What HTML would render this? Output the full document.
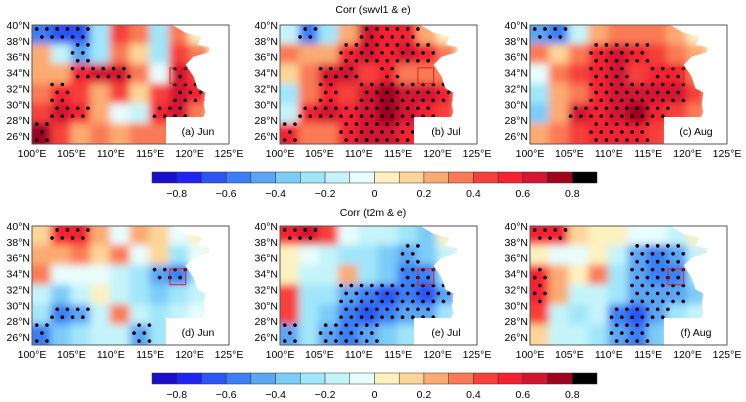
<!DOCTYPE html>
<html><head><meta charset="utf-8"><style>
html,body{margin:0;padding:0;background:#fff;}
svg{display:block;font-family:"Liberation Sans",Arial,sans-serif;}
</style></head><body>
<svg id="fig" width="746" height="402" viewBox="0 0 746 402" xmlns="http://www.w3.org/2000/svg">
<defs>
<filter id="blur" x="-10%" y="-10%" width="120%" height="120%"><feGaussianBlur stdDeviation="4"/></filter>
</defs>
<text x="373" y="13" font-size="10.5" text-anchor="middle">Corr (swvl1 &amp; e)</text>
<text x="373" y="216" font-size="10.5" text-anchor="middle">Corr (t2m &amp; e)</text>
</svg>
<script>
// Colour bins (-0.9..0.9 step 0.1)
const binColors = ["#1a10cc","#1f24f5","#2b55f5","#3a7ff5","#5aa6f5","#7cccf8","#a0e6fa","#c4f4fa","#e8fdfd","#fdf1c0","#fdd598","#fbaa72","#fa7a55","#f7403a","#f52030","#d41530","#a00520","#000000"];
const cbarTicks = [-0.8,-0.6,-0.4,-0.2,0,0.2,0.4,0.6,0.8];
const lonTicks = [100,105,110,115,120,125];
const latTicks = [40,38,36,34,32,30,28,26];
const panelLabels = ["(a) Jun","(b) Jul","(c) Aug","(d) Jun","(e) Jul","(f) Aug"];
// grids: rows north->south (2.5deg), cols west->east (2.5deg)
const fieldA = [[-0.6,-0.7,-0.7,-0.3,0.4,0.3,-0.3,0.3,0,0],[0.2,-0.2,-0.5,-0.3,0.3,0.1,-0.3,0.4,0.3,0],[0.2,0.2,0.5,0.6,0.6,0.3,-0.1,0.6,0.4,0],[0.3,0.5,0.4,0.2,0.4,0.1,0.4,0.6,0.5,0],[0.4,0.6,0.5,0.2,-0.1,-0.2,0.5,0.6,0.3,0],[0.7,0.4,0.2,0.3,0.2,0.3,0.3,0.3,0.2,0]];
const fieldB = [[-0.2,-0.6,-0.3,0.2,0.6,0.5,0.5,0.2,0,0],[0.3,0.2,0.2,0.5,0.6,0.5,0.6,0.5,0.3,0],[0.1,0.3,0.6,0.6,0.4,0.5,0.3,0.3,0.3,0],[-0.3,0.3,0.5,0.4,0.6,0.7,0.6,0.6,0.5,0],[-0.2,0.5,0.6,0.5,0.6,0.7,0.6,0.5,0.4,0],[0.5,0.3,0.3,0.5,0.6,0.6,0.5,0.4,0.3,0]];
const fieldC = [[-0.5,-0.6,-0.2,0.2,0.3,0.3,0.3,0.2,0,0],[0.3,0.1,0.3,0.5,0.6,0.5,0.4,0.3,0.2,0],[-0.1,0.3,0.4,0.5,0.6,0.4,0.5,0.5,0.3,0],[-0.3,0.2,0.3,0.5,0.6,0.6,0.6,0.6,0.4,0],[-0.4,0.2,0.6,0.5,0.6,0.7,0.5,0.4,0.3,0],[0.2,0.3,0.4,0.5,0.5,0.5,0.4,0.3,0.2,0]];
const fieldD = [[0.1,0.5,0.5,0.2,-0.1,0.2,0.1,-0.1,0,0],[0.2,0.2,0.3,0.1,0.3,-0.1,0.1,-0.3,-0.1,0],[0.3,-0.1,-0.1,-0.1,-0.2,-0.3,-0.5,-0.6,-0.3,0],[-0.2,-0.4,-0.2,0,-0.2,-0.3,-0.4,-0.3,-0.2,0],[-0.3,-0.6,-0.5,-0.2,0.3,-0.2,-0.3,-0.2,-0.1,0],[-0.6,-0.4,-0.3,-0.2,-0.2,-0.5,-0.3,-0.2,-0.1,0]];
const fieldE = [[0.5,0.6,0.4,-0.1,-0.2,-0.2,-0.3,-0.4,0,0],[0,-0.1,-0.2,-0.3,-0.3,-0.4,-0.5,-0.4,-0.2,0],[0,-0.2,-0.2,0.2,-0.3,-0.4,-0.6,-0.6,-0.3,0],[0.4,-0.3,-0.3,-0.5,-0.6,-0.7,-0.6,-0.7,-0.5,0],[0.4,-0.3,-0.4,-0.6,-0.7,-0.6,-0.5,-0.5,-0.3,0],[-0.5,-0.3,-0.5,-0.6,-0.5,-0.4,-0.3,-0.3,-0.2,0]];
const fieldF = [[0.5,0.5,0.1,0,0,-0.1,-0.1,-0.2,0,0],[0,-0.1,-0.1,0,-0.2,-0.5,-0.6,-0.5,-0.2,0],[0.5,0.2,0,0.3,-0.3,-0.5,-0.6,-0.6,-0.3,0],[0.5,0.2,-0.2,-0.2,-0.3,-0.5,-0.5,-0.5,-0.4,0],[0.4,-0.2,-0.3,-0.2,-0.6,-0.7,-0.5,-0.3,-0.2,0],[0.1,-0.2,-0.2,-0.3,-0.5,-0.6,-0.4,-0.2,-0.1,0]];
const fields = [fieldA,fieldB,fieldC,fieldD,fieldE,fieldF];
const ocean = [[117.8,40],[119.5,39],[121.5,38.5],[121,37.5],[122.5,37.2],[122.5,36.6],[120.5,36],[119.5,35],[120.5,33.5],[121,32],[122,31.5],[121.8,30],[122,29],[121.5,28],[121,27],[120,26],[119.5,25],[125,25],[125,40]];
const boxRegion = [117.5,32.6,119.5,34.6];

const NS="http://www.w3.org/2000/svg";
const svg=document.getElementById('fig');
function mk(tag,attrs,parent){const e=document.createElementNS(NS,tag);for(const k in attrs)e.setAttribute(k,attrs[k]);(parent||svg).appendChild(e);return e;}
function colorOf(v){let i=Math.floor((v+0.9)/0.1+1e-9);i=Math.max(0,Math.min(17,i));return binColors[i];}
const panelX=[32,280,530,32,280,530], panelY=[25,25,25,226,226,226];
const PW=197, PH=119;
panelX.forEach((x0,p)=>{
  const y0=panelY[p];
  const sx=lon=>x0+(lon-100)/25*PW, sy=lat=>y0+(40-lat)/15*PH;
  const cid='clip'+p;
  const cp=mk('clipPath',{id:cid},svg.querySelector('defs'));
  mk('rect',{x:x0,y:y0,width:PW,height:PH},cp);
  const g=mk('g',{'clip-path':'url(#'+cid+')'});
  
  
  const fg=mk('g',{filter:'url(#blur)'},g);
  const f=fields[p];
  f.forEach((row,r)=>row.forEach((v,c)=>{
    const cell=mk('rect',{x:sx(100+c*2.5)-(c===0?12:1),y:sy(40-r*2.5)-(r===0?12:1),width:PW/10+(c===0?13:2)+(c===9?12:0),height:PH/6+(r===0?13:2)+(r===5?12:0),fill:colorOf(v)},fg);
    
    
  }));
  // stippling where significant
  for(let lat=39.5;lat>25;lat-=1){
    const k=Math.round(39.5-lat);
    for(let lon=100.6+(k%2)*0.65;lon<125;lon+=1.3){
      const r=Math.min(5,Math.floor((40-lat)/2.5)), c=Math.min(9,Math.floor((lon-100)/2.5));
      if(Math.abs(f[r][c])>=0.5){
        const d=mk('circle',{cx:sx(lon),cy:sy(lat),r:1.8,fill:'#000'},g);
        
        
      }
    }
  }
  const oc=mk('polygon',{points:ocean.map(q=>sx(q[0])+','+sy(q[1])).join(' '),fill:'#fff'},g);
  
  
  const lb=mk('rect',{x:x0+134,y:y0+92,width:PW-134,height:PH-92,fill:'#fff'},g);
  
  
  const t=mk('text',{x:x0+166,y:y0+110,'font-size':10.5,'text-anchor':'middle'});
  t.textContent=panelLabels[p];
  
  
  const bx=mk('rect',{x:sx(boxRegion[0]),y:sy(boxRegion[3]),width:sx(boxRegion[2])-sx(boxRegion[0]),height:sy(boxRegion[1])-sy(boxRegion[3]),fill:'none',stroke:'#e02020','stroke-width':1});
  
  
  const fr=mk('rect',{x:x0,y:y0,width:PW,height:PH,fill:'none',stroke:'#555','stroke-width':1});
  
  
  latTicks.forEach(lt=>{
    const tt=mk('text',{x:x0-2,y:sy(lt)+4,'font-size':10.5,'text-anchor':'end'});
    tt.textContent=lt+'°N';
    
    
  });
  lonTicks.forEach(ln=>{
    const tt=mk('text',{x:sx(ln),y:y0+PH+13,'font-size':10.5,'text-anchor':'middle'});
    tt.textContent=ln+'°E';
    
    
  });
});
// colorbars
[172,373].forEach((cy,i)=>{
  const x0=152,w=445,bw=w/18;
  const cg=mk('g',{});
  
  
  binColors.forEach((c,k)=>{
    const r=mk('rect',{x:x0+k*bw,y:cy,width:bw,height:11,fill:c,stroke:'#333','stroke-width':0.5},cg);
    
    
  });
  cbarTicks.forEach(v=>{
    const t=mk('text',{x:x0+(v+0.9)/1.8*w,y:cy+25,'font-size':10.5,'text-anchor':'middle'},cg);
    t.textContent=(v<0?'\u2212':'')+Math.abs(v).toString();
    
    
  });
});
</script>
</body></html>
